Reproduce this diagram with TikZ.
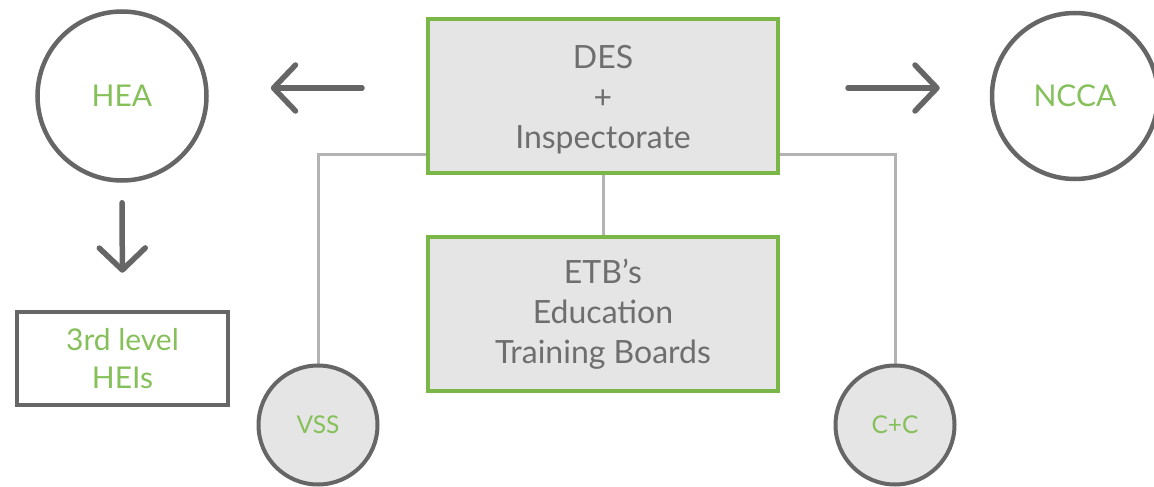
\documentclass[tikz,border=0pt]{standalone}
\usepackage{fontspec}
\setmainfont{Lato}
\usetikzlibrary{arrows.meta,backgrounds}
\definecolor{grn}{HTML}{7AB648}
\definecolor{grntxt}{HTML}{86C05A}
\definecolor{dgray}{HTML}{666666}
\definecolor{lgray}{HTML}{B3B3B3}
\definecolor{boxfill}{HTML}{E5E5E5}
\definecolor{txtgray}{HTML}{6E6E6E}
\tikzset{
  greenbox/.style={draw=grn, line width=4pt, fill=boxfill, minimum width=350pt, minimum height=154pt,
    align=center, text=txtgray, font=\fontsize{32}{40}\selectfont, inner sep=0pt},
  bigcircle/.style={circle, draw=dgray, line width=4.5pt, minimum size=169pt, inner sep=0pt,
    text=grntxt, font=\fontsize{30}{36}\selectfont},
  smallcircle/.style={circle, draw=dgray, line width=4pt, fill=boxfill, minimum size=119pt, inner sep=0pt,
    text=grntxt, font=\fontsize{24.5}{28}\selectfont},
  heibox/.style={draw=dgray, line width=4.5pt, minimum width=211pt, minimum height=93pt, inner sep=0pt,
    align=center, text=grntxt, font=\fontsize{30}{38}\selectfont},
  conn/.style={draw=lgray, line width=3pt},
  bigarrow/.style={draw=dgray, line width=5.5pt, line cap=round,
    -{Straight Barb[length=22pt,width=46pt,round]}},
}
\begin{document}
\begin{tikzpicture}[x=1pt,y=-1pt]
\useasboundingbox (0,0) rectangle (1154,487);
\node[greenbox] (des) at (603,96) {\rule{0pt}{31pt}DES\\+\\Inspectorate};
\node[greenbox] (etb) at (603,314) {ETB’s\\Education\\Training Boards};
\node[bigcircle] (hea) at (122,96) {HEA};
\node[bigcircle, minimum size=166pt] (ncca) at (1075,96) {NCCA};
\node[heibox] (hei) at (122.5,358.5) {3rd level\\HEIs};
\node[smallcircle] (vss) at (318,425) {VSS};
\node[smallcircle] (cc) at (895,425) {C+C};
\begin{scope}[on background layer]
  \draw[conn] ([yshift=21pt]des.south west) -| (vss.north);
  \draw[conn] ([yshift=21pt]des.south east) -| (cc.north);
  \draw[conn] (des.south) -- (etb.north);
\end{scope}
\draw[bigarrow, shorten <=64pt, shorten >=62pt] ([yshift=8pt]des.west) -- ([yshift=8pt]hea.east);
\draw[bigarrow, shorten <=68pt, shorten >=50pt] ([yshift=8pt]des.east) -- ([yshift=8pt]ncca.west);
\draw[bigarrow, shorten <=20pt, shorten >=37pt] (hea.south) -- (hei.north);
\end{tikzpicture}
\end{document}
